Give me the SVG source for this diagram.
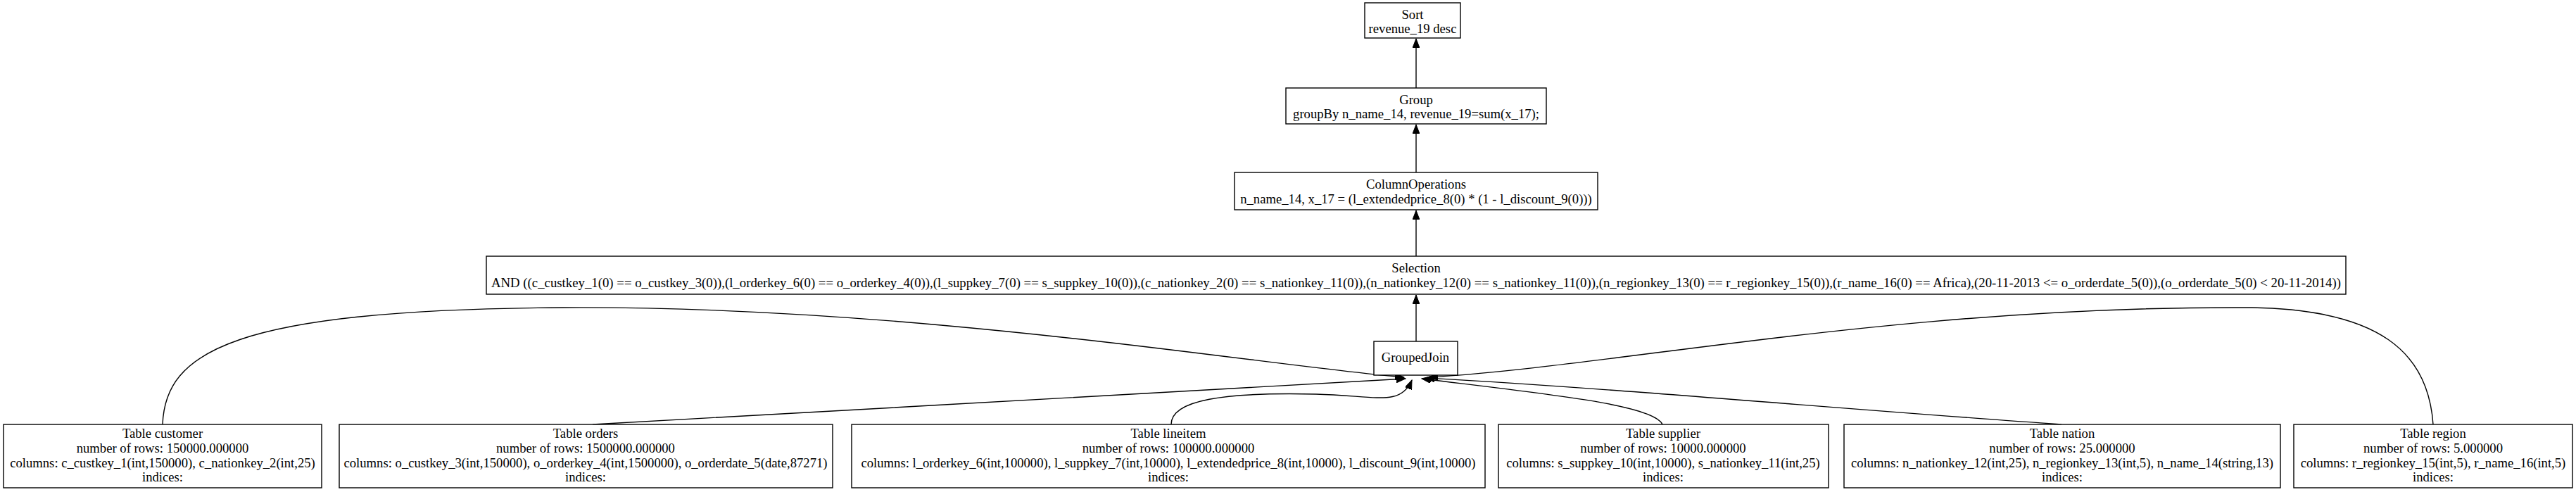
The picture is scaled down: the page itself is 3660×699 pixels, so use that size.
<svg xmlns="http://www.w3.org/2000/svg" width="3660" height="699" viewBox="0 0 3660 699">
<style>
.box{fill:#fff;stroke:#000;stroke-width:1.4}
.t{font-family:"Liberation Serif","Times New Roman",serif;font-size:18.67px;fill:#000;text-anchor:middle}
.e{fill:none;stroke:#000;stroke-width:1.4}
</style>
<defs>
<marker id="ah" markerUnits="userSpaceOnUse" markerWidth="14" markerHeight="10" refX="13" refY="5" orient="auto">
<path d="M0,0 L13,5 L0,10 Z" fill="#000" stroke="#000"/>
</marker>
</defs>
<rect width="3660" height="699" fill="#fff"/>
<g id="connectors">
<path class="e" marker-end="url(#ah)" d="M2012,125 L2012,55"/>
<path class="e" marker-end="url(#ah)" d="M2012,245 L2012,177"/>
<path class="e" marker-end="url(#ah)" d="M2012,364 L2012,299"/>
<path class="e" marker-end="url(#ah)" d="M2012,485 L2012,419"/>
<path class="e" marker-end="url(#ah)" d="M231,603 C235,500 330,440 800,437 C1300,434 1800,520 1995,536"/>
<path class="e" marker-end="url(#ah)" d="M842,603 C1200,583 1700,555 1997,538"/>
<path class="e" marker-end="url(#ah)" d="M1664,603 C1664,568 1740,557 1870,560 C1955,562 1990,578 2006,540"/>
<path class="e" marker-end="url(#ah)" d="M2362,603 C2350,575 2200,560 2020,538"/>
<path class="e" marker-end="url(#ah)" d="M2929,603 C2600,580 2300,552 2025,537"/>
<path class="e" marker-end="url(#ah)" d="M3457,603 C3450,500 3380,440 3200,437 C2700,434 2300,520 2030,536"/>
</g>
<g id="sort"><rect class="box" x="1939" y="4" width="136" height="50"/><text class="t" x="2007" y="27">Sort</text><text class="t" x="2007" y="47">revenue_19 desc</text></g>
<g id="group"><rect class="box" x="1827" y="125" width="370" height="51"/><text class="t" x="2012" y="148">Group</text><text class="t" x="2012" y="168">groupBy n_name_14, revenue_19=sum(x_17);</text></g>
<g id="columnoperations"><rect class="box" x="1754" y="245" width="516" height="53"/><text class="t" x="2012" y="268">ColumnOperations</text><text class="t" x="2012" y="289">n_name_14, x_17 = (l_extendedprice_8(0) * (1 - l_discount_9(0)))</text></g>
<g id="selection"><rect class="box" x="691" y="364" width="2642" height="54"/><text class="t" x="2012" y="387">Selection</text><text class="t" x="2012" y="408" textLength="2628" lengthAdjust="spacingAndGlyphs">AND ((c_custkey_1(0) == o_custkey_3(0)),(l_orderkey_6(0) == o_orderkey_4(0)),(l_suppkey_7(0) == s_suppkey_10(0)),(c_nationkey_2(0) == s_nationkey_11(0)),(n_nationkey_12(0) == s_nationkey_11(0)),(n_regionkey_13(0) == r_regionkey_15(0)),(r_name_16(0) == Africa),(20-11-2013 &lt;= o_orderdate_5(0)),(o_orderdate_5(0) &lt; 20-11-2014))</text></g>
<g id="groupedjoin"><rect class="box" x="1952" y="485" width="119" height="48"/><text class="t" x="2011" y="514">GroupedJoin</text></g>
<g id="customer"><rect class="box" x="5" y="603" width="452" height="90"/><text class="t" x="231" y="622">Table customer</text><text class="t" x="231" y="643">number of rows: 150000.000000</text><text class="t" x="231" y="664">columns: c_custkey_1(int,150000), c_nationkey_2(int,25)</text><text class="t" x="231" y="684">indices:</text></g>
<g id="orders"><rect class="box" x="482" y="603" width="701" height="90"/><text class="t" x="832" y="622">Table orders</text><text class="t" x="832" y="643">number of rows: 1500000.000000</text><text class="t" x="832" y="664">columns: o_custkey_3(int,150000), o_orderkey_4(int,1500000), o_orderdate_5(date,87271)</text><text class="t" x="832" y="684">indices:</text></g>
<g id="lineitem"><rect class="box" x="1210" y="603" width="900" height="90"/><text class="t" x="1660" y="622">Table lineitem</text><text class="t" x="1660" y="643">number of rows: 100000.000000</text><text class="t" x="1660" y="664">columns: l_orderkey_6(int,100000), l_suppkey_7(int,10000), l_extendedprice_8(int,10000), l_discount_9(int,10000)</text><text class="t" x="1660" y="684">indices:</text></g>
<g id="supplier"><rect class="box" x="2129" y="603" width="469" height="90"/><text class="t" x="2363" y="622">Table supplier</text><text class="t" x="2363" y="643">number of rows: 10000.000000</text><text class="t" x="2363" y="664">columns: s_suppkey_10(int,10000), s_nationkey_11(int,25)</text><text class="t" x="2363" y="684">indices:</text></g>
<g id="nation"><rect class="box" x="2620" y="603" width="620" height="90"/><text class="t" x="2930" y="622">Table nation</text><text class="t" x="2930" y="643">number of rows: 25.000000</text><text class="t" x="2930" y="664">columns: n_nationkey_12(int,25), n_regionkey_13(int,5), n_name_14(string,13)</text><text class="t" x="2930" y="684">indices:</text></g>
<g id="region"><rect class="box" x="3259" y="603" width="396" height="90"/><text class="t" x="3457" y="622">Table region</text><text class="t" x="3457" y="643">number of rows: 5.000000</text><text class="t" x="3457" y="664">columns: r_regionkey_15(int,5), r_name_16(int,5)</text><text class="t" x="3457" y="684">indices:</text></g>
</svg>
